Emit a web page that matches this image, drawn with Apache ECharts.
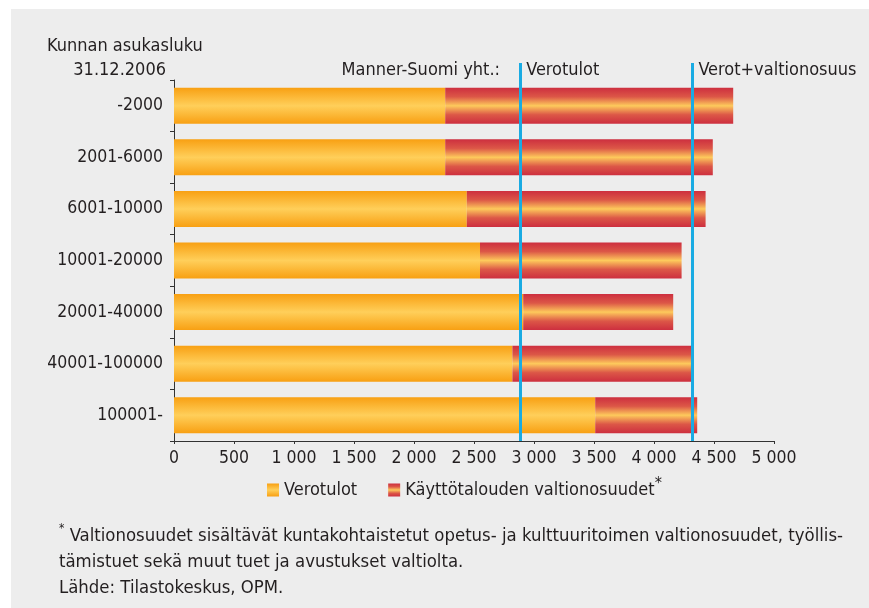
<!DOCTYPE html>
<html>
<head>
<meta charset="utf-8">
<script src="https://cdn.jsdelivr.net/npm/echarts@6/dist/echarts.min.js"></script>
<style>
  html, body { margin: 0; padding: 0; background: #fff; }
  #main { width: 869px; height: 608px; }
</style>
</head>
<body>
<div id="main"></div>
<script>
// Kunnan asukasluku 31.12.2006
var categories = ['-2000', '2001-6000', '6001-10000', '10001-20000', '20001-40000', '40001-100000', '100001-'];
// euroa / asukas
var verotulot = [2260, 2260, 2440, 2550, 2910, 2820, 3510];
var valtionosuudet = [2400, 2230, 1990, 1680, 1250, 1490, 850];
// Manner-Suomi yht.
var mannerSuomi = [2885, 4320];
var mannerLabels = ['Verotulot', 'Verot+valtionosuus'];

var seriesNames = ['Verotulot', 'Käyttötalouden valtionosuudet'];

var FONT = "'Liberation Sans Narrow', 'DejaVu Sans Condensed', sans-serif";
var TXT = '#231f20';
var W = 869, H = 608;
var grid = { left: 174, right: 95, top: 80, bottom: 167 };

function thousands(v) {
    return String(v).replace(/\B(?=(\d{3})+(?!\d))/g, ' ');
}

var orange = new echarts.graphic.LinearGradient(0, 0, 0, 1, [
    { offset: 0, color: '#f8a013' },
    { offset: 0.5, color: '#ffcf5a' },
    { offset: 1, color: '#f8a013' }
]);
var red = new echarts.graphic.LinearGradient(0, 0, 0, 1, [
    { offset: 0, color: '#cd2f3f' },
    { offset: 0.25, color: '#dc5747' },
    { offset: 0.45, color: '#f7b257' },
    { offset: 0.5, color: '#fdca5c' },
    { offset: 0.55, color: '#f7b257' },
    { offset: 0.75, color: '#dc5747' },
    { offset: 1, color: '#cd2f3f' }
]);

var option = {
    animation: false,
    backgroundColor: '#ffffff',
    textStyle: { fontFamily: FONT, color: TXT },
    grid: grid,
    legend: {
        data: seriesNames,
        left: 262,
        top: 471,
        icon: 'rect',
        itemWidth: 12,
        itemHeight: 13,
        itemGap: 31,
        formatter: function (name) {
            return name === seriesNames[1] ? '{n|' + name + '}{s|*}' : '{n|' + name + '}';
        },
        textStyle: {
            fontFamily: FONT,
            color: TXT,
            fontSize: 18,
            rich: {
                n: { fontFamily: FONT, fontSize: 18, color: TXT, lineHeight: 28, verticalAlign: 'middle' },
                s: { fontFamily: FONT, fontSize: 16, color: TXT, lineHeight: 16, verticalAlign: 'top' }
            }
        }
    },
    xAxis: {
        type: 'value',
        min: 0,
        max: 5000,
        interval: 500,
        splitLine: { show: false },
        axisLine: { show: true, lineStyle: { color: '#333', width: 1 } },
        axisTick: { show: true, length: 3, lineStyle: { color: '#333' } },
        axisLabel: { margin: 8, fontSize: 17.5, color: TXT, fontFamily: FONT, formatter: thousands }
    },
    yAxis: {
        type: 'category',
        data: categories,
        inverse: true,
        axisLine: { show: true, lineStyle: { color: '#333', width: 1 } },
        axisTick: { show: true, length: 4, lineStyle: { color: '#333' } },
        axisLabel: { margin: 11, fontSize: 17.5, color: TXT, fontFamily: FONT }
    },
    series: [
        {
            name: seriesNames[0],
            type: 'bar',
            stack: 'tot',
            barWidth: 36,
            itemStyle: { color: orange },
            data: verotulot
        },
        {
            name: seriesNames[1],
            type: 'bar',
            stack: 'tot',
            barWidth: 36,
            itemStyle: { color: red },
            data: valtionosuudet,
            markLine: {
                silent: true,
                symbol: 'none',
                lineStyle: { color: '#19abe3', width: 3, type: 'solid' },
                label: {
                    show: true,
                    position: 'end',
                    align: 'left',
                    verticalAlign: 'middle',
                    distance: [0, -7],
                    padding: [0, 0, 0, 6],
                    fontFamily: FONT,
                    fontSize: 18,
                    color: TXT,
                    formatter: function (p) { return p.name; }
                },
                data: mannerSuomi.map(function (v, i) {
                    return [
                        { name: mannerLabels[i], xAxis: v, y: H - grid.bottom },
                        { xAxis: v, y: grid.top - 17 }
                    ];
                })
            }
        }
    ],
    graphic: [
        {
            type: 'rect', z: -100, silent: true,
            shape: { x: 11, y: 9, width: W - 11, height: H - 9 },
            style: { fill: '#ededed' }
        },
        {
            type: 'text', x: 47, y: 46,
            style: { text: 'Kunnan asukasluku', font: '18px ' + FONT, fill: TXT, verticalAlign: 'middle' }
        },
        {
            type: 'text', x: 166, y: 70,
            style: { text: '31.12.2006', font: '18px ' + FONT, fill: TXT, align: 'right', verticalAlign: 'middle' }
        },
        {
            type: 'text', x: 500, y: 70,
            style: { text: 'Manner-Suomi yht.:', font: '18px ' + FONT, fill: TXT, align: 'right', verticalAlign: 'middle' }
        },
        {
            type: 'text', x: 59, y: 523,
            style: {
                text: '{s|*}{t| Valtionosuudet sisältävät kuntakohtaistetut opetus- ja kulttuuritoimen valtionosuudet, työllis-}\n' +
                      '{t|tämistuet sekä muut tuet ja avustukset valtiolta.}\n' +
                      '{t|Lähde: Tilastokeskus, OPM.}',
                fill: TXT,
                font: '18.4px ' + FONT,
                lineHeight: 26,
                rich: {
                    s: { font: '12px ' + FONT, fill: TXT, verticalAlign: 'top', lineHeight: 26 },
                    t: { font: '18.4px ' + FONT, fill: TXT, lineHeight: 26 }
                }
            }
        }
    ]
};

var chartDom = document.getElementById('main');
var myChart = echarts.init(chartDom, null, { renderer: 'canvas' });
myChart.setOption(option);
</script>
</body>
</html>
